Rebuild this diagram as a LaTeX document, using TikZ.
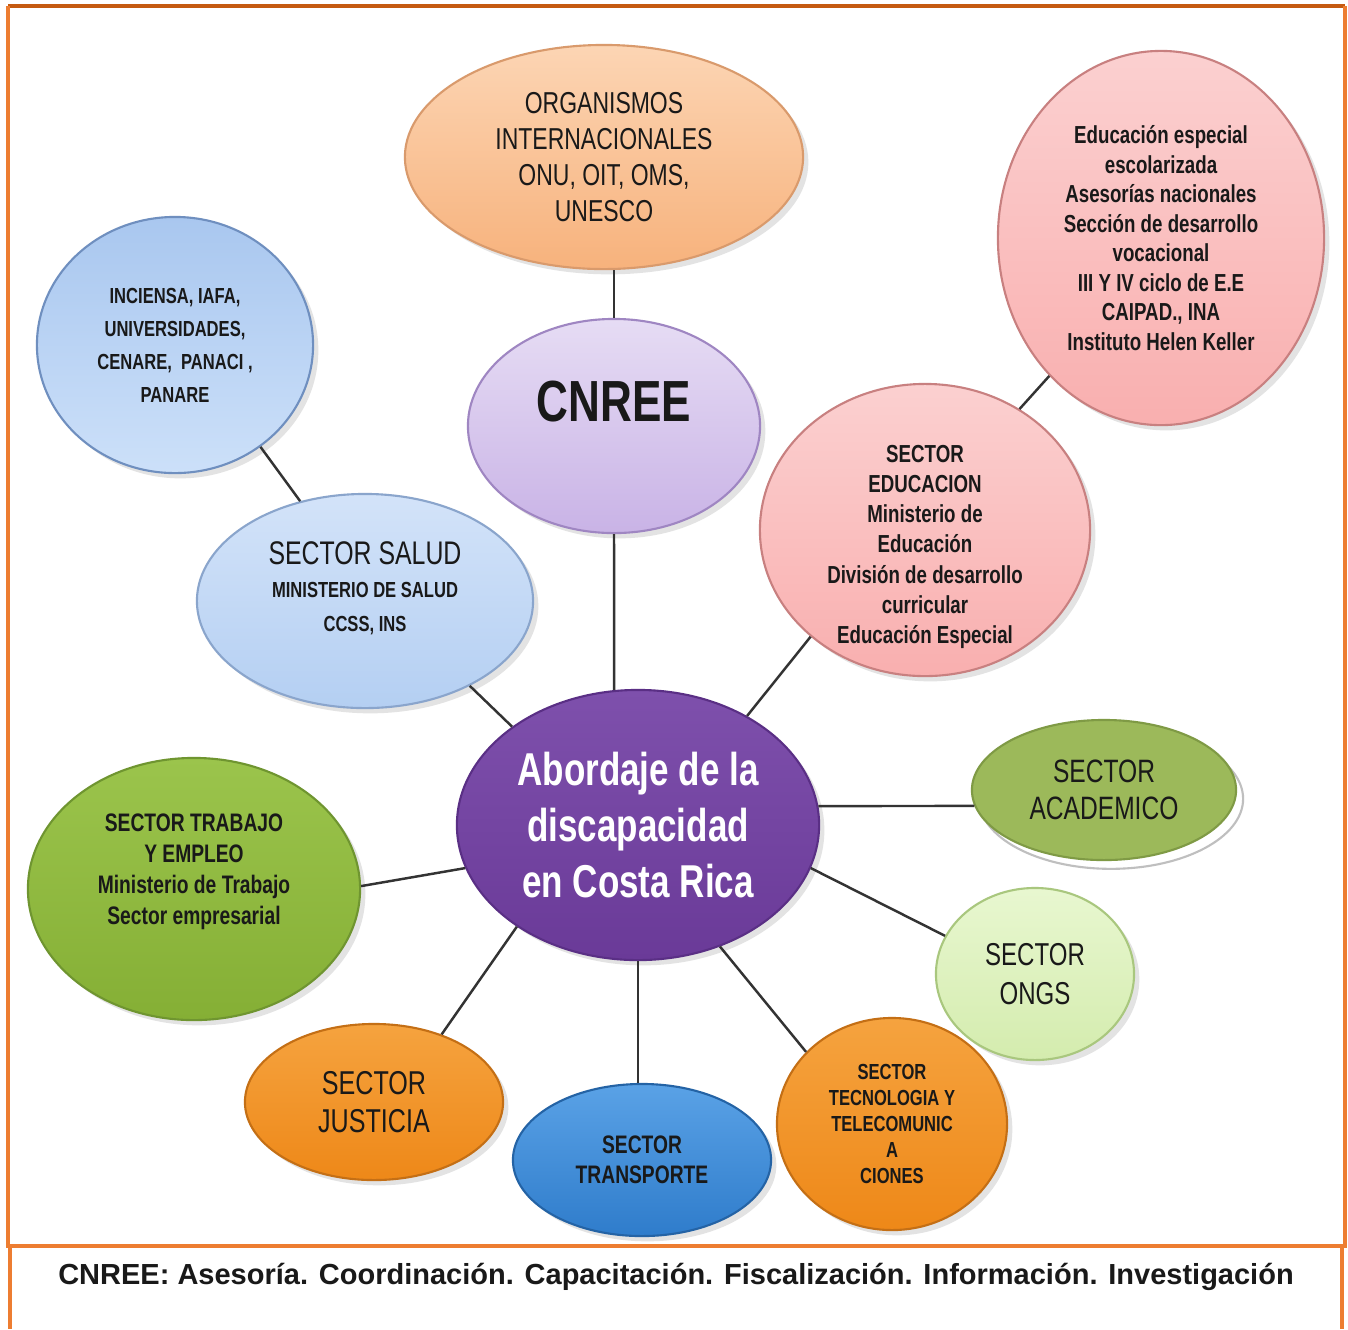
\documentclass[tikz,border=0pt]{standalone}
\usepackage{fontspec}
\setmainfont{Liberation Sans}
\newfontfamily\narrow[FakeStretch=0.76]{Liberation Sans}
\usetikzlibrary{shapes.geometric,shadows}
\definecolor{framedark}{HTML}{C55A11}
\definecolor{frameorange}{HTML}{ED7D31}
\definecolor{orgtop}{HTML}{FCD5B4}
\definecolor{orgbot}{HTML}{F7B27C}
\definecolor{orgline}{HTML}{D99A6C}
\definecolor{cnreetop}{HTML}{E6DCF4}
\definecolor{cnreebot}{HTML}{C9B3E6}
\definecolor{cnreeline}{HTML}{9F86C2}
\definecolor{incitop}{HTML}{A9C7EF}
\definecolor{incibot}{HTML}{CCE0F9}
\definecolor{inciline}{HTML}{6F8FBF}
\definecolor{pinktop}{HTML}{FBD0D0}
\definecolor{pinkbot}{HTML}{F9AFAF}
\definecolor{pinkline}{HTML}{C88080}
\definecolor{saludtop}{HTML}{D3E3F9}
\definecolor{saludbot}{HTML}{B4CFF2}
\definecolor{saludline}{HTML}{8AA5CC}
\definecolor{abordtop}{HTML}{7E50AC}
\definecolor{abordbot}{HTML}{6A3A98}
\definecolor{abordline}{HTML}{5A2F85}
\definecolor{trabtop}{HTML}{9BC44C}
\definecolor{trabbot}{HTML}{85AF35}
\definecolor{trabline}{HTML}{6F9530}
\definecolor{acadfill}{HTML}{9CB95A}
\definecolor{acadline}{HTML}{7F9A45}
\definecolor{ongstop}{HTML}{E8F7D0}
\definecolor{ongsbot}{HTML}{D4ECAE}
\definecolor{ongsline}{HTML}{A9C77E}
\definecolor{orangetop}{HTML}{F5A33F}
\definecolor{orangebot}{HTML}{EE8818}
\definecolor{orangeline}{HTML}{C46F15}
\definecolor{transtop}{HTML}{5AA2E6}
\definecolor{transbot}{HTML}{2F7CCB}
\definecolor{transline}{HTML}{2463A5}
\begin{document}
\begin{tikzpicture}[x=0.01cm,y=-0.01cm,
    every node/.style={align=center,text=black!90},
    bubble/.style={ellipse,inner sep=0pt,line width=0.6pt,
      drop shadow={opacity=0.22,shadow xshift=1.5pt,shadow yshift=-1.5pt}},
    link/.style={draw=black!80,line width=0.7pt},
    frameline/.style={draw=frameorange,line width=1pt}]
  \path[use as bounding box,fill=white] (0,0) rectangle (1348,1329);
  \draw[frameline,draw=framedark] (8,6) -- (1345,6);
  \draw[frameline] (8,6) -- (8,1246) -- (1345,1246) -- (1345,6);
  \draw[frameline] (10,1246) -- (10,1329) (1342,1246) -- (1342,1329);

  \node[bubble,minimum width=3.98cm,minimum height=2.24cm,draw=orgline,top color=orgtop,bottom color=orgbot,
    font=\narrow\fontsize{8.6}{10.2}\selectfont] (org) at (604,157)
    {ORGANISMOS\\INTERNACIONALES\\ONU, OIT, OMS,\\UNESCO};
  \node[bubble,minimum width=2.92cm,minimum height=2.14cm,draw=cnreeline,top color=cnreetop,bottom color=cnreebot,
    font=\narrow\bfseries\fontsize{16.5}{18}\selectfont,text depth=0.5cm] (cnree) at (614,426) {CNREE};
  \node[bubble,minimum width=2.76cm,minimum height=2.56cm,draw=inciline,top color=incitop,bottom color=incibot,
    font=\narrow\bfseries\fontsize{6.2}{9.4}\selectfont] (inciensa) at (175,345)
    {INCIENSA, IAFA,\\UNIVERSIDADES,\\CENARE,\ \ PANACI ,\\PANARE};
  \node[bubble,minimum width=3.26cm,minimum height=3.74cm,draw=pinkline,top color=pinktop,bottom color=pinkbot,
    font=\narrow\bfseries\fontsize{7}{8.4}\selectfont] (eduesp) at (1161,238)
    {Educación especial\\escolarizada\\Asesorías nacionales\\Sección de desarrollo\\vocacional\\
     III Y IV ciclo de E.E\\CAIPAD., INA\\Instituto Helen Keller};
  \node[bubble,minimum width=3.30cm,minimum height=2.92cm,draw=pinkline,top color=pinktop,bottom color=pinkbot,
    font=\narrow\bfseries\fontsize{7}{8.6}\selectfont] (educ) at (925,530)
    {\raisebox{-0.23cm}[0pt][0pt]{\begin{tabular}{@{}c@{}}SECTOR\\EDUCACION\\Ministerio de\\Educación\\
     División de desarrollo\\curricular\\Educación Especial\end{tabular}}};
  \node[bubble,minimum width=3.36cm,minimum height=2.14cm,draw=saludline,top color=saludtop,bottom color=saludbot,
    font=\narrow\fontsize{9.3}{9.6}\selectfont] (salud) at (365,601)
    {\raisebox{0.02cm}[0pt][0pt]{\begin{tabular}{@{}c@{}}SECTOR SALUD\\
     {\bfseries\fontsize{6.2}{9.6}\selectfont MINISTERIO DE SALUD}\\
     {\bfseries\fontsize{6.2}{9.6}\selectfont CCSS, INS}\end{tabular}}};
  \node[bubble,minimum width=3.62cm,minimum height=2.70cm,draw=abordline,top color=abordtop,bottom color=abordbot,
    text=white,font=\narrow\bfseries\fontsize{13.1}{15.9}\selectfont] (abord) at (638,825)
    {Abordaje de la\\discapacidad\\en Costa Rica};
  \node[bubble,minimum width=3.32cm,minimum height=2.62cm,draw=trabline,top color=trabtop,bottom color=trabbot,
    font=\narrow\bfseries\fontsize{7.2}{8.8}\selectfont] (trabajo) at (194,889)
    {\raisebox{0.11cm}[0pt][0pt]{\begin{tabular}{@{}c@{}}SECTOR TRABAJO\\Y EMPLEO\\
     Ministerio de Trabajo\\Sector empresarial\end{tabular}}};
  \node[bubble,minimum width=2.64cm,minimum height=1.40cm,draw=acadline,fill=acadfill,
    drop shadow={fill=white,draw=black!25,opacity=1,shadow xshift=2pt,shadow yshift=-2.5pt},
    font=\narrow\fontsize{9.2}{10.5}\selectfont] (acad) at (1104,790) {SECTOR\\ACADEMICO};
  \node[bubble,minimum width=1.98cm,minimum height=1.72cm,draw=ongsline,top color=ongstop,bottom color=ongsbot,
    font=\narrow\fontsize{9}{11}\selectfont] (ongs) at (1035,974) {SECTOR\\ONGS};
  \node[bubble,minimum width=2.58cm,minimum height=1.56cm,draw=orangeline,top color=orangetop,bottom color=orangebot,
    font=\narrow\fontsize{9.4}{10.8}\selectfont] (justicia) at (374,1102) {SECTOR\\JUSTICIA};
  \node[bubble,minimum width=2.58cm,minimum height=1.52cm,draw=transline,top color=transtop,bottom color=transbot,
    font=\narrow\bfseries\fontsize{7.2}{8.5}\selectfont] (transp) at (642,1160) {SECTOR\\TRANSPORTE};
  \node[bubble,minimum width=2.30cm,minimum height=2.12cm,draw=orangeline,top color=orangetop,bottom color=orangebot,
    font=\narrow\bfseries\fontsize{6.2}{7.4}\selectfont] (tecno) at (892,1124)
    {SECTOR\\TECNOLOGIA Y\\TELECOMUNIC\\A\\CIONES};

  \draw[link] (org.south -| cnree.north) -- (cnree.north);
  \draw[link] (cnree.south) -- (abord.100);
  \draw[link] (inciensa.-50) -- (salud.123);
  \draw[link] (salud.-39) -- (abord.142);
  \draw[link] (eduesp.231) -- (educ.52);
  \draw[link] (educ.223) -- (abord.45);
  \draw[link] (abord.6) -- (acad.187);
  \draw[link] (abord.-14) -- (ongs.157);
  \draw[link] (abord.-56) -- (tecno.140);
  \draw[link] (abord.south) -- (abord.south |- transp.north);
  \draw[link] (abord.220) -- (justicia.45);
  \draw[link] (abord.194) -- (trabajo.1);

  \node[font=\bfseries\fontsize{8.25}{10}\selectfont] (caption) at (676,1277)
    {CNREE: Asesoría. Coordinación. Capacitación. Fiscalización. Información. Investigación};
\end{tikzpicture}
\end{document}
